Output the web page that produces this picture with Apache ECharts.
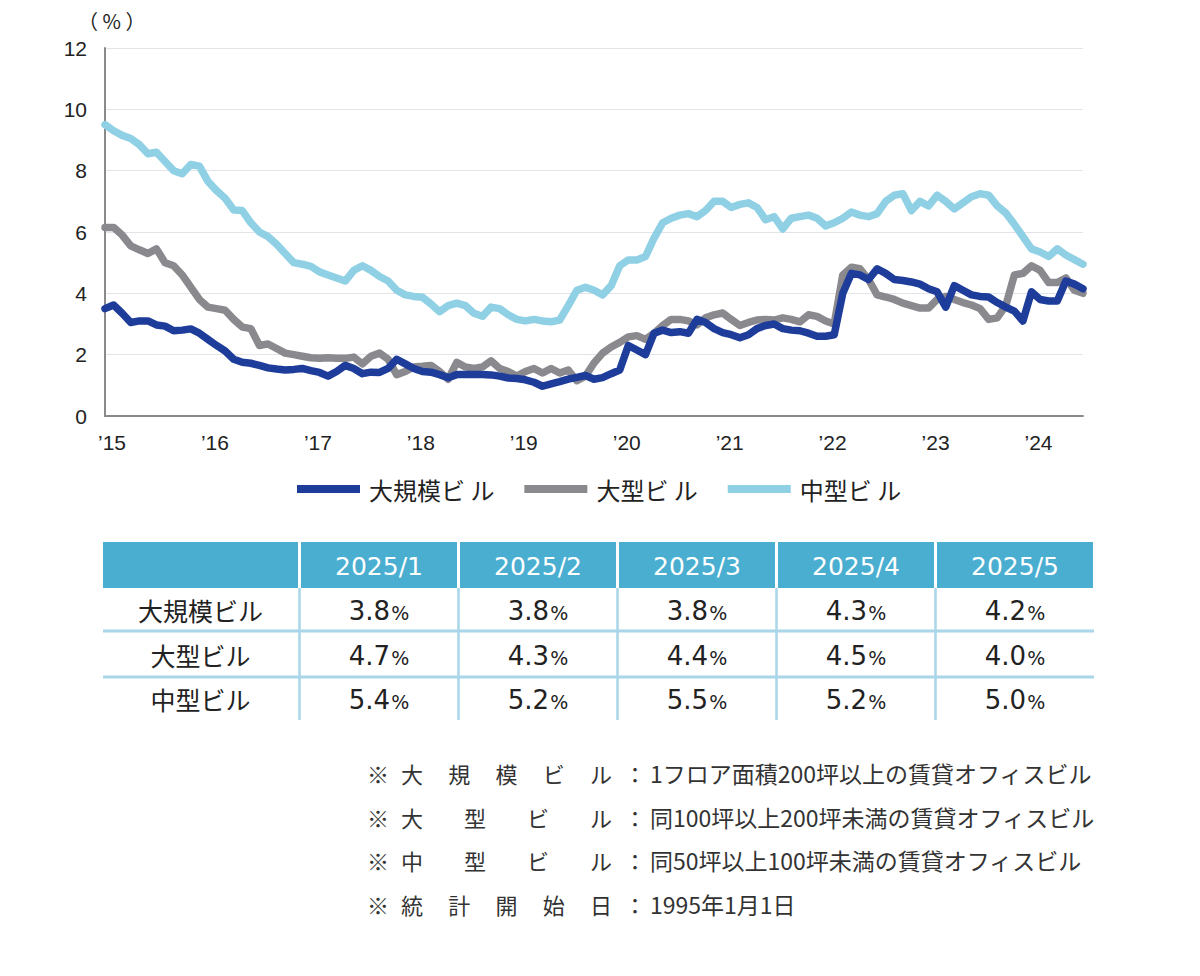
<!DOCTYPE html>
<html><head><meta charset="utf-8">
<script src="https://cdn.jsdelivr.net/npm/echarts@6/dist/echarts.min.js"></script>
<style>html,body{margin:0;padding:0;background:#fff}#c{width:1200px;height:976px}</style>
</head><body><div id="c"></div>
<script>
const yearLabels = ["’15","’16","’17","’18","’19","’20","’21","’22","’23","’24"];
const seriesNames = ["大規模ビル","大型ビル","中型ビル"];
const largeScale = [3.5,3.62,3.35,3.05,3.1,3.1,2.97,2.93,2.78,2.8,2.84,2.7,2.5,2.3,2.12,1.85,1.75,1.72,1.65,1.57,1.53,1.5,1.52,1.55,1.48,1.42,1.3,1.45,1.65,1.55,1.38,1.43,1.42,1.55,1.85,1.7,1.55,1.45,1.43,1.35,1.25,1.35,1.35,1.35,1.35,1.34,1.3,1.24,1.22,1.18,1.1,0.97,1.05,1.12,1.2,1.26,1.32,1.2,1.25,1.38,1.5,2.3,2.15,2.0,2.7,2.8,2.72,2.75,2.7,3.15,3.05,2.85,2.72,2.65,2.55,2.65,2.85,2.95,3.0,2.85,2.8,2.78,2.7,2.6,2.6,2.65,4.0,4.65,4.6,4.45,4.8,4.65,4.45,4.42,4.37,4.3,4.15,4.05,3.55,4.25,4.1,3.95,3.9,3.88,3.7,3.55,3.42,3.1,4.05,3.8,3.75,3.75,4.4,4.3,4.15];
const large = [6.15,6.15,5.9,5.55,5.42,5.3,5.45,5.0,4.9,4.6,4.2,3.8,3.55,3.5,3.45,3.15,2.9,2.85,2.3,2.35,2.2,2.05,2.0,1.95,1.9,1.88,1.9,1.88,1.88,1.92,1.7,1.95,2.05,1.85,1.35,1.45,1.6,1.62,1.65,1.45,1.2,1.75,1.6,1.55,1.6,1.8,1.55,1.45,1.3,1.45,1.55,1.4,1.55,1.4,1.5,1.15,1.3,1.73,2.05,2.25,2.4,2.58,2.62,2.5,2.7,2.95,3.15,3.15,3.1,2.97,3.2,3.3,3.36,3.15,2.95,3.05,3.13,3.15,3.13,3.2,3.15,3.07,3.3,3.25,3.1,3.0,4.6,4.85,4.8,4.45,3.95,3.88,3.8,3.68,3.6,3.52,3.52,3.8,3.9,3.8,3.7,3.62,3.5,3.15,3.2,3.6,4.6,4.65,4.9,4.75,4.35,4.35,4.5,4.1,4.0];
const medium = [9.5,9.3,9.15,9.05,8.85,8.55,8.6,8.3,8.0,7.9,8.2,8.15,7.65,7.35,7.1,6.72,6.7,6.3,6.0,5.85,5.6,5.3,5.0,4.95,4.88,4.7,4.6,4.5,4.4,4.75,4.9,4.75,4.55,4.4,4.1,3.95,3.9,3.87,3.65,3.4,3.6,3.68,3.6,3.35,3.25,3.55,3.5,3.3,3.15,3.1,3.15,3.1,3.07,3.13,3.6,4.1,4.2,4.1,3.95,4.25,4.9,5.09,5.09,5.2,5.8,6.3,6.45,6.55,6.6,6.5,6.7,7.0,7.0,6.8,6.9,6.95,6.8,6.4,6.5,6.1,6.45,6.5,6.55,6.45,6.2,6.3,6.45,6.65,6.55,6.5,6.6,7.0,7.2,7.25,6.7,7.0,6.85,7.2,7.0,6.75,6.95,7.15,7.25,7.2,6.85,6.62,6.25,5.85,5.45,5.35,5.2,5.45,5.25,5.1,4.95];
const tableHeaders = ["2025/1","2025/2","2025/3","2025/4","2025/5"];
const tableValues = [[3.8,3.8,3.8,4.3,4.2],[4.7,4.3,4.4,4.5,4.0],[5.4,5.2,5.5,5.2,5.0]];
const noteLabels = ["大規模ビル","大型ビル","中型ビル","統計開始日"];
const noteTexts = ["1フロア面積200坪以上の賃貸オフィスビル","同100坪以上200坪未満の賃貸オフィスビル","同50坪以上100坪未満の賃貸オフィスビル","1995年1月1日"];

const categories = largeScale.map((_, i) => (2015 + Math.floor(i / 12)) + '/' + (i % 12 + 1));
const colors = ['#1e3d9b', '#8a898e', '#8fd0e4'];
const CJK = '"Noto Sans CJK JP", "Noto Sans", sans-serif';
const NUM = '"DejaVu Sans", sans-serif';

const graphics = [];
graphics.push({type:'text', left:78, top:10, style:{text:'（ % ）', fontSize:20, fill:'#222', fontFamily:CJK}});

// table
const tTop = 542, hH = 46;
const colX = [103], colW = [195];
for (let k = 0; k < tableHeaders.length; k++) { colX.push(301 + 159 * k); colW.push(156); }
const rowY = [588, 632, 678], rowH = [43, 45, 42];
graphics.push({type:'rect', shape:{x:colX[0], y:tTop, width:colW[0], height:hH}, style:{fill:'#4aaed1'}});
tableHeaders.forEach((h, k) => {
  graphics.push({type:'rect', shape:{x:colX[k+1], y:tTop, width:colW[k+1], height:hH}, style:{fill:'#4aaed1'}});
  graphics.push({type:'text', x:colX[k+1] + colW[k+1] / 2, y:tTop + hH / 2 + 1, style:{text:h, fontSize:25, fill:'#fff', fontFamily:NUM, align:'center', verticalAlign:'middle'}});
});
for (let k = 1; k < colX.length; k++) {
  graphics.push({type:'line', shape:{x1:colX[k] - 1.5, y1:tTop + hH, x2:colX[k] - 1.5, y2:720}, style:{stroke:'#a9d6e8', lineWidth:2.5}});
}
[631, 677].forEach(y => graphics.push({type:'line', shape:{x1:103, y1:y, x2:1094, y2:y}, style:{stroke:'#a9d6e8', lineWidth:3}}));
seriesNames.forEach((n, r) => {
  const cy = rowY[r] + rowH[r] / 2;
  graphics.push({type:'text', x:colX[0] + colW[0] / 2, y:cy, style:{text:n, fontSize:25, fill:'#222', fontFamily:CJK, align:'center', verticalAlign:'middle'}});
  tableValues[r].forEach((v, k) => {
    graphics.push({type:'text', x:colX[k+1] + colW[k+1] / 2, y:cy + 1, style:{text:'{a|' + v.toFixed(1) + '}{b|%}', align:'center', verticalAlign:'middle', rich:{a:{fontSize:26, fontFamily:NUM, fill:'#222'}, b:{fontSize:19, fontFamily:NUM, fill:'#222', padding:[4,0,0,1]}}}});
  });
});

// notes
const noteY = [773, 817, 860, 904];
noteLabels.forEach((lab, r) => {
  const y = noteY[r];
  graphics.push({type:'text', x:367, y:y, style:{text:'※', fontSize:22, fill:'#333', fontFamily:CJK, verticalAlign:'middle'}});
  const chars = lab.split('');
  const startX = 401, endX = 612, cw = 22;
  const step = (endX - startX - cw) / (chars.length - 1);
  chars.forEach((ch, j) => graphics.push({type:'text', x:startX + step * j, y:y, style:{text:ch, fontSize:22, fill:'#333', fontFamily:CJK, verticalAlign:'middle'}}));
  graphics.push({type:'text', x:624, y:y, style:{text:'：', fontSize:22, fill:'#333', fontFamily:CJK, verticalAlign:'middle'}});
  graphics.push({type:'text', x:650, y:y, style:{text:noteTexts[r], fontSize:23, fill:'#333', fontFamily:CJK, verticalAlign:'middle'}});
});

const dataBy = [largeScale, large, medium];
const chart = echarts.init(document.getElementById('c'), null, {renderer:'svg'});
chart.setOption({
  animation:false,
  color: colors,
  grid:{left:105, right:117, top:48, bottom:560, containLabel:false},
  legend:{
    data: seriesNames, left:292, top:472, itemWidth:63, itemHeight:8, itemGap:30, icon:'rect',
    formatter: n => n.slice(0, -1) + ' ' + n.slice(-1),
    textStyle:{fontSize:24, color:'#222', fontFamily:CJK, padding:[0,0,0,4]}
  },
  xAxis:{
    type:'category', data:categories, boundaryGap:false,
    axisLine:{lineStyle:{color:'#8a8a8a', width:2}}, axisTick:{show:false},
    axisLabel:{interval:(i) => i % 12 === 0, formatter:(v, i) => yearLabels[Math.floor(i / 12)], fontSize:21, color:'#222', fontFamily:'"Liberation Sans", Arial, sans-serif', margin:16, padding:[0,0,0,14]}
  },
  yAxis:{
    type:'value', min:0, max:12, interval:2,
    axisLine:{show:true, lineStyle:{color:'#8a8a8a', width:2}},
    splitLine:{lineStyle:{color:'#e3e3ea', width:1}},
    axisLabel:{fontSize:21, color:'#222', fontFamily:'"Liberation Sans", Arial, sans-serif', margin:18}
  },
  series:[2,1,0].map(k => ({
    name: seriesNames[k], type:'line', data: dataBy[k], showSymbol:false, symbol:'none',
    lineStyle:{width:7.5, color:colors[k], cap:'round', join:'round'}, itemStyle:{color:colors[k]}, z: 10 - k
  })),
  graphic: graphics
});
</script></body></html>
